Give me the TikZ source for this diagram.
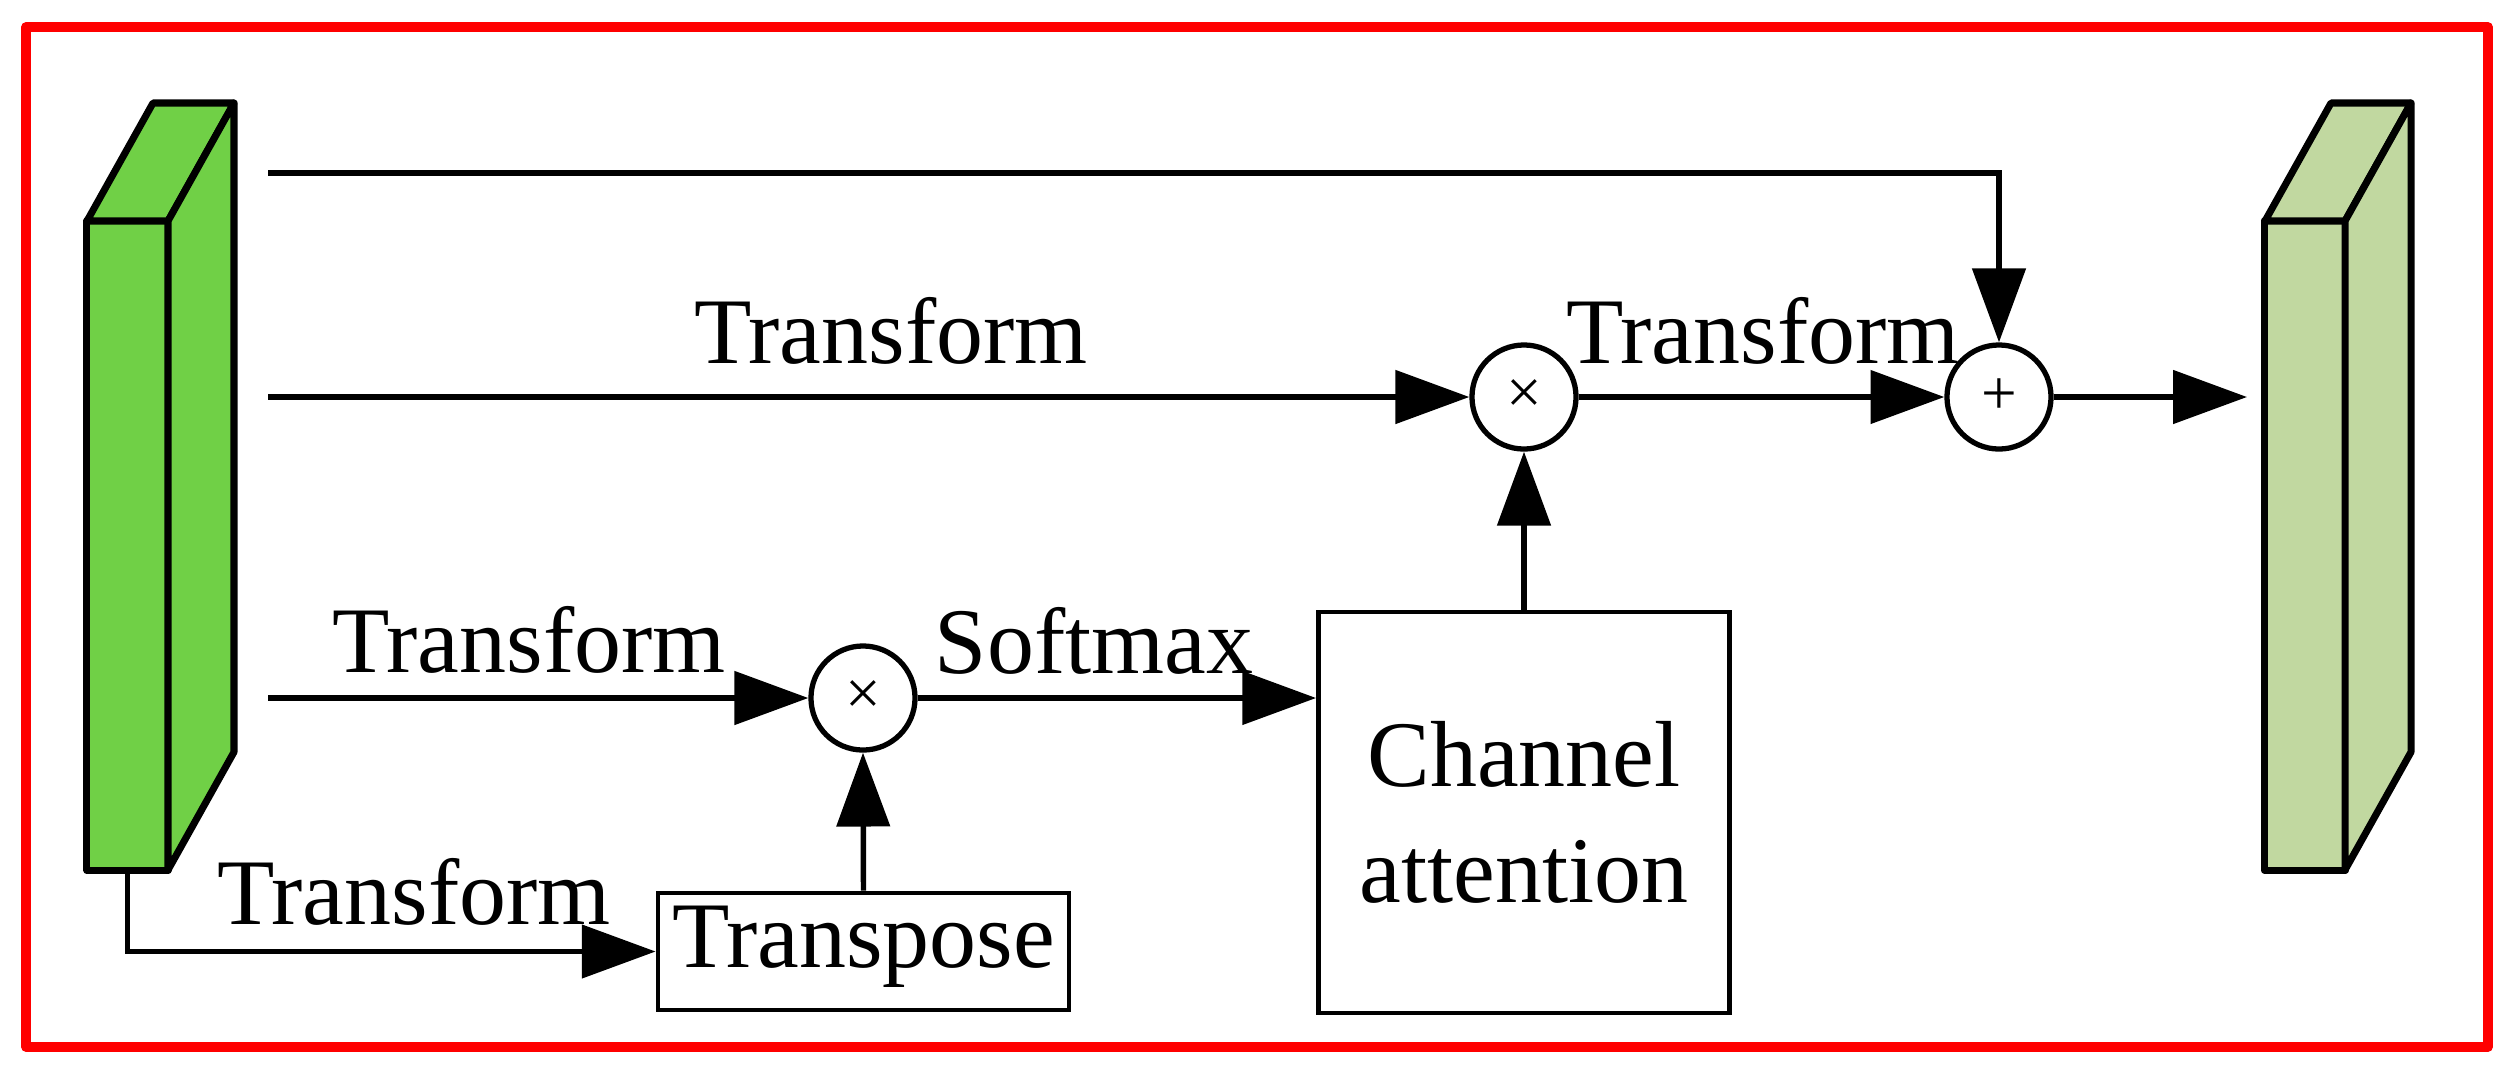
\documentclass[tikz,border=0pt]{standalone}
\usepackage{fontspec}
\setmainfont{Liberation Serif}
\usetikzlibrary{arrows.meta}
\definecolor{ingreen}{RGB}{112,208,70}
\definecolor{outgreen}{RGB}{193,216,160}
\begin{document}
\begin{tikzpicture}[x=0.01cm,y=-0.01cm,
  lbl/.style={font=\fontsize{26.7}{33}\selectfont, inner sep=0pt, anchor=base},
  conn/.style={line width=1.55pt, -{Triangle[length=21pt,width=15pt]}},
  plain/.style={line width=1.55pt},
  opnode/.style={circle, draw, line width=1.5pt, minimum size=1.04cm, inner sep=0pt, font=\fontsize{18}{18}\selectfont},
  blockface/.style={draw, line width=2pt, line join=round},
  boxnode/.style={draw, line width=1.3pt, inner sep=0pt, align=center, font=\fontsize{26.7}{33}\selectfont}]
\useasboundingbox (0,0) rectangle (2514,1075);
% red frame
\draw[red, line width=2.6pt, line join=round] (26,27) rectangle (2488,1047);
% input block
\node[blockface, fill=ingreen, minimum width=0.81cm, minimum height=6.49cm, inner sep=0pt] (inblk) at (127.5,545.5) {};
\draw[blockface, fill=ingreen] (87,221) -- (153,103) -- (234,103) -- (168,221) -- cycle;
\draw[blockface, fill=ingreen] (168,221) -- (234,103) -- (234,752) -- (168,870) -- cycle;
% output block
\node[blockface, fill=outgreen, minimum width=0.81cm, minimum height=6.49cm, inner sep=0pt] (outblk) at (2305,545.5) {};
\draw[blockface, fill=outgreen] (2265,221) -- (2331,103) -- (2411,103) -- (2345,221) -- cycle;
\draw[blockface, fill=outgreen] (2345,221) -- (2411,103) -- (2411,752) -- (2345,870) -- cycle;
% operators
\node[opnode] (m1) at (1524,397) {×};
\node[opnode] (plus) at (1999,397) {+};
\node[opnode] (m2) at (863,698) {×};
% boxes
\node[boxnode, minimum width=4.11cm, minimum height=4.01cm] (cha) at (1524,812.5) {Channel\\attention};
\node[boxnode, minimum width=4.11cm, minimum height=1.17cm, text height=21.1pt, text depth=12.2pt] (trp) at (863.5,951.5) {Transpose};
% free ends
\coordinate (s1) at (268,173);
\coordinate (s2) at (268,397);
\coordinate (s3) at (268,698);
\coordinate (oend) at (2247,397);
% connectors
\draw[conn] (s1) -| (plus.north);
\draw[conn] (s2) -- (m1.west);
\draw[conn] (m1.east) -- (plus.west);
\draw[conn] (plus.east) -- (oend);
\draw[conn] (s3) -- (m2.west);
\draw[conn] (m2.east) -- (m2.east -| cha.west);
\draw[conn] (cha.north) -- (m1.south);
\draw[conn] (trp.north) -- (m2.south);
\draw[conn] (inblk.south) |- (trp.west);
% labels
\node[lbl] (l1) at (891,363) {Transform};
\node[lbl] (l2) at (1763,363) {Transform};
\node[lbl] (l3) at (529,672) {Transform};
\node[lbl] (l4) at (1094,673) {Softmax};
\node[lbl] (l5) at (414,924) {Transform};
\end{tikzpicture}
\end{document}
